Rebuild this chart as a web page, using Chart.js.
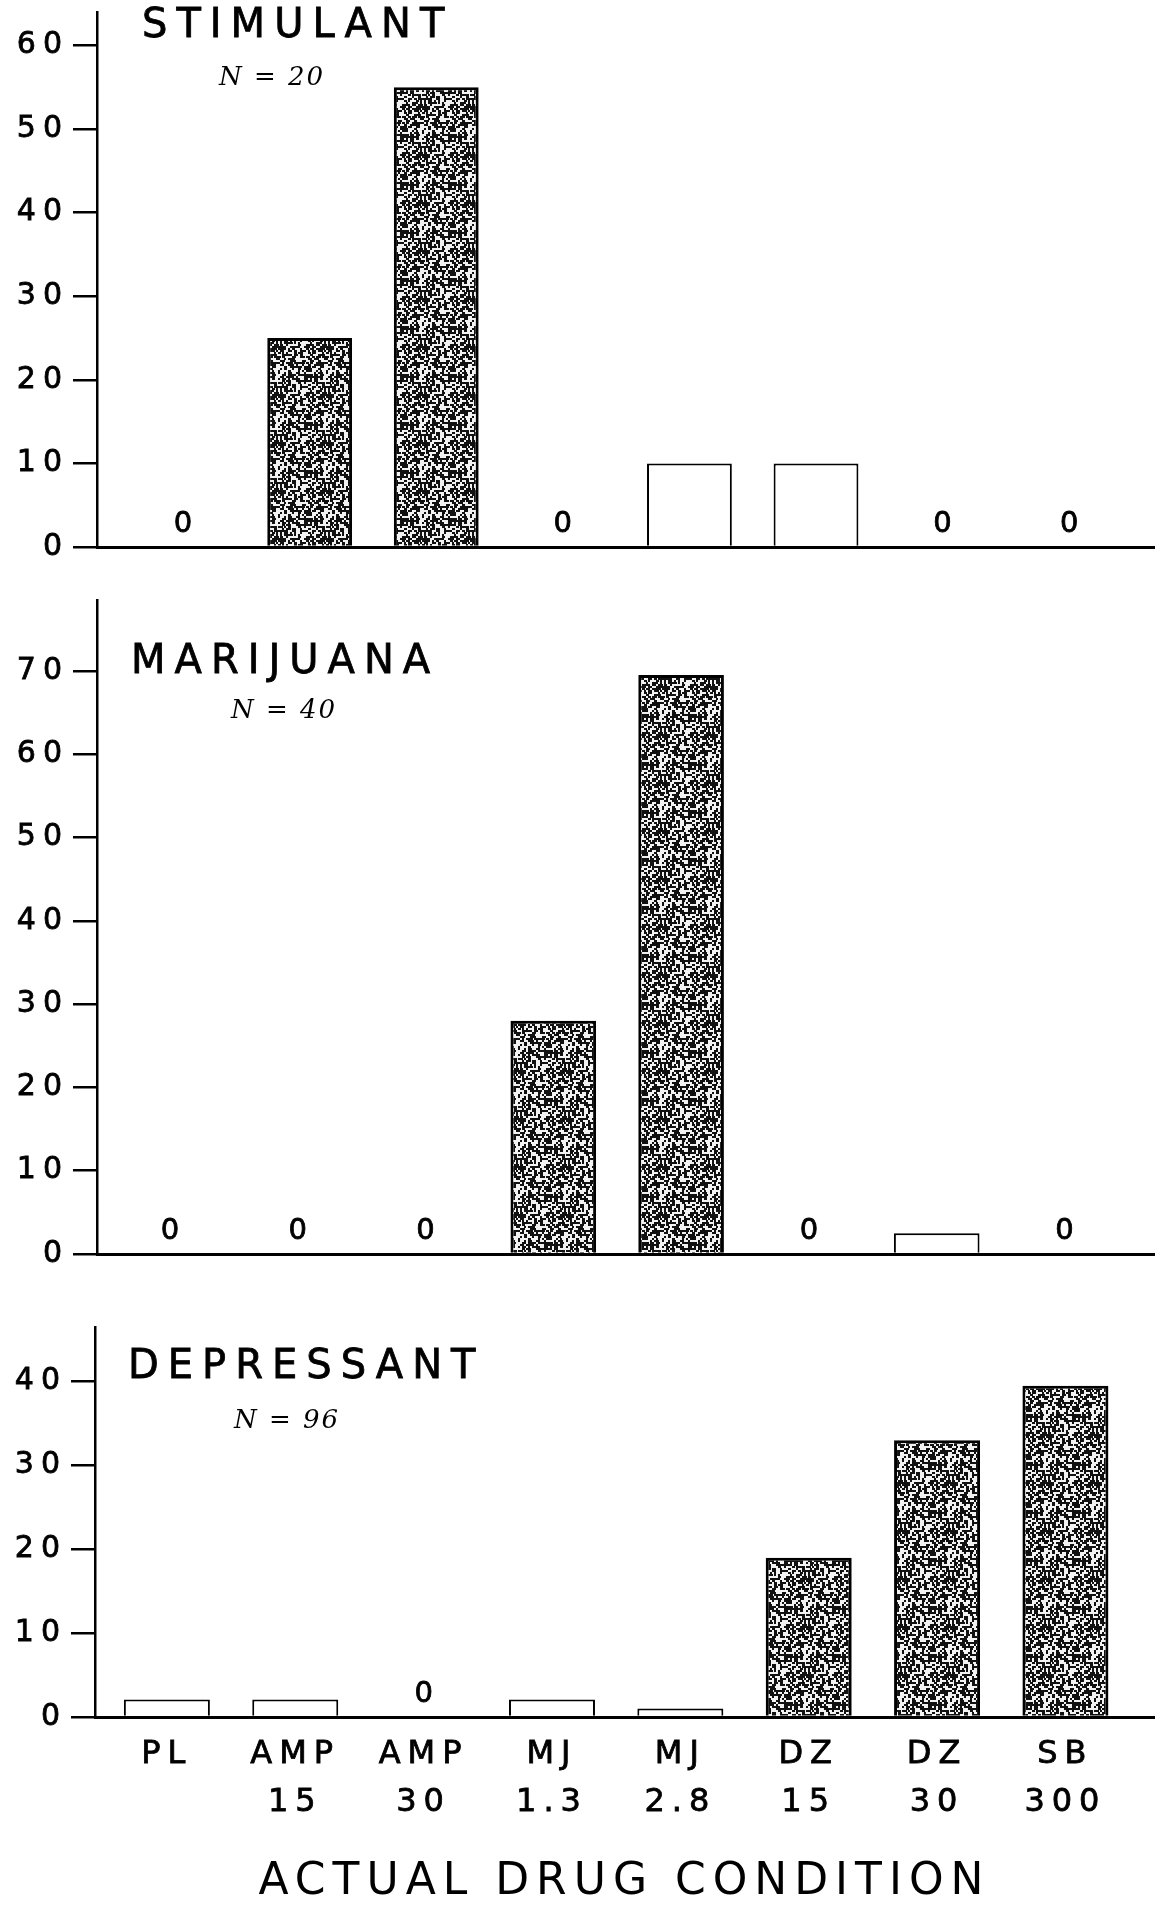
<!DOCTYPE html>
<html>
<head>
<meta charset="utf-8">
<script src="https://cdn.jsdelivr.net/npm/chart.js@4"></script>
<style>
body { margin: 0; background: #fff; }
canvas { position: absolute; left: 0; }
</style>
</head>
<body>
<canvas id="stim" width="1164" height="580" style="top:0px"></canvas>
<canvas id="mj" width="1164" height="700" style="top:580px"></canvas>
<canvas id="dep" width="1164" height="629" style="top:1280px"></canvas>
<script>
// drug conditions on the x axis (two-line tick labels)
const categories = [['PL', ''], ['AMP', '15'], ['AMP', '30'], ['MJ', '1.3'], ['MJ', '2.8'], ['DZ', '15'], ['DZ', '30'], ['SB', '300']];
const drugClass = ['PL', 'AMP', 'AMP', 'MJ', 'MJ', 'DZ', 'DZ', 'SB'];

// percent identified as each class
const stimulantValues = [0, 25, 55, 0, 10, 10, 0, 0];
const marijuanaValues = [0, 0, 0, 28, 69.5, 0, 2.5, 0];
const depressantValues = [2.1, 2.1, 0, 2.1, 1, 19, 33, 39.5];

const stimulantClasses = ['AMP'];
const marijuanaClasses = ['MJ'];
const depressantClasses = ['DZ', 'SB'];

const FONT = 'DejaVu Sans';

// grainy fill like the photocopied bars
function stipple() {
    const c = document.createElement('canvas');
    c.width = 48; c.height = 48;
    const g = c.getContext('2d');
    g.fillStyle = '#f2f2f2';
    g.fillRect(0, 0, 48, 48);
    g.fillStyle = '#111';
    for (let i = 0; i < 24; i++) {
        for (let j = 0; j < 24; j++) {
            const h = ((i * 73856093) ^ (j * 19349663) ^ ((i + 2 * j) * 83492791)) >>> 0;
            if (h % 100 < 52) g.fillRect(i * 2, j * 2, 2 + (h % 3 === 0 ? 1 : 0), 2);
        }
    }
    return g.createPattern(c, 'repeat');
}
const grain = stipple();

const panelText = {
    id: 'panelText',
    beforeDraw(chart) {
        chart.ctx.letterSpacing = '7px';
    },
    afterDatasetsDraw(chart, args, opts) {
        const ctx = chart.ctx;
        const xs = chart.scales.x, ys = chart.scales.y;
        ctx.save();
        ctx.fillStyle = '#000';
        ctx.strokeStyle = '#000';
        ctx.lineWidth = 0.8;
        ctx.letterSpacing = '0px';
        ctx.font = '29px "' + FONT + '"';
        ctx.textAlign = 'center';
        ctx.textBaseline = 'alphabetic';
        chart.data.datasets[0].data.forEach(p => {
            if (p.y === 0) {
                const px = xs.getPixelForValue(p.x), py = ys.getPixelForValue(0) - 15;
                ctx.fillText('0', px, py);
                ctx.strokeText('0', px, py);
            }
        });
        ctx.textAlign = 'left';
        ctx.letterSpacing = '9px';
        ctx.font = '40px "' + FONT + '"';
        ctx.fillText(opts.title, opts.titleX, opts.titleY);
        ctx.strokeText(opts.title, opts.titleX, opts.titleY);
        ctx.letterSpacing = '2px';
        ctx.font = 'italic 26px "DejaVu Serif"';
        ctx.fillText(opts.n, opts.nX, opts.nY);
        ctx.restore();
    }
};

function makePanel(id, values, classes, cfg) {
    const filled = drugClass.map(c => classes.includes(c));
    return new Chart(id, {
        type: 'bar',
        data: {
            datasets: [{
                data: values.map((v, i) => ({ x: i, y: v })),
                backgroundColor: filled.map(f => f ? grain : '#fff'),
                borderColor: '#000',
                borderWidth: values.map((v, i) => v === 0 ? 0 : (filled[i] ? 3 : 2)),
                barPercentage: 0.67,
                categoryPercentage: 1
            }]
        },
        plugins: [panelText],
        options: {
            responsive: false,
            animation: false,
            devicePixelRatio: 1,
            layout: { padding: { top: cfg.padTop, right: 10, left: 0, bottom: 0 } },
            plugins: {
                legend: { display: false },
                tooltip: { enabled: false },
                panelText: cfg.text
            },
            scales: {
                x: {
                    type: 'linear',
                    offset: false,
                    min: cfg.xMin,
                    max: cfg.xMax,
                    grid: { display: false, offset: false },
                    border: { display: true, color: '#000', width: 3 },
                    ticks: {
                        display: cfg.labels,
                        stepSize: 1,
                        includeBounds: false,
                        autoSkip: false,
                        maxRotation: 0,
                        padding: 6,
                        color: '#000',
                        textStrokeColor: '#000',
                        textStrokeWidth: 0.8,
                        font: { family: FONT, size: 32, lineHeight: 1.5 },
                        callback: v => (Number.isInteger(v) && categories[v]) || ''
                    },
                    title: {
                        display: cfg.labels,
                        text: 'ACTUAL DRUG CONDITION',
                        color: '#000',
                        padding: 0,
                        font: { family: FONT, size: 44 }
                    },
                    afterFit: s => { s.height = cfg.xHeight; s.paddingLeft = 0; s.paddingRight = 0; }
                },
                y: {
                    min: 0,
                    max: cfg.yMax,
                    grid: { drawOnChartArea: false, drawTicks: true, tickLength: 24, color: '#000', lineWidth: 2.5 },
                    border: { color: '#000', width: 2.5 },
                    ticks: {
                        stepSize: 10,
                        includeBounds: false,
                        padding: 4,
                        color: '#000',
                        textStrokeColor: '#000',
                        textStrokeWidth: 0.8,
                        font: { family: FONT, size: 30 }
                    },
                    afterFit: s => { s.width = cfg.axisWidth; s.paddingTop = 0; s.paddingBottom = 0; }
                }
            }
        }
    });
}

makePanel('stim', stimulantValues, stimulantClasses, {
    padTop: 12, xHeight: 33, yMax: 64, xMin: -0.68, xMax: 7.67, axisWidth: 97, labels: false,
    text: { title: 'STIMULANT', titleX: 142, titleY: 37, n: 'N = 20', nX: 219, nY: 85 }
});
makePanel('mj', marijuanaValues, marijuanaClasses, {
    padTop: 20, xHeight: 26, yMax: 78.5, xMin: -0.57, xMax: 7.70, axisWidth: 97, labels: false,
    text: { title: 'MARIJUANA', titleX: 131, titleY: 93, n: 'N = 40', nX: 231, nY: 138 }
});
makePanel('dep', depressantValues, depressantClasses, {
    padTop: 47, xHeight: 192, yMax: 46.5, xMin: -0.56, xMax: 7.69, axisWidth: 95, labels: true,
    text: { title: 'DEPRESSANT', titleX: 128, titleY: 98, n: 'N = 96', nX: 234, nY: 148 }
});
</script>
</body>
</html>
